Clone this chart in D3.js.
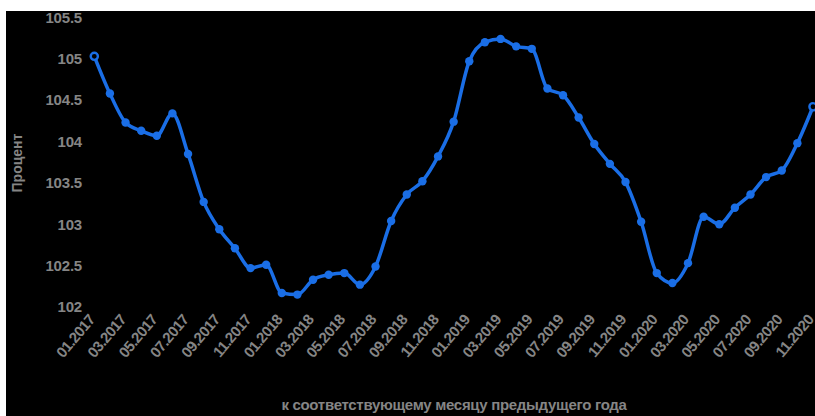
<!DOCTYPE html>
<html><head><meta charset="utf-8">
<script src="https://cdn.jsdelivr.net/npm/d3@7"></script>
<style>html,body{margin:0;padding:0;background:#fff;overflow:hidden}</style>
</head><body>
<svg id="c" width="815" height="416"></svg>
<script>
const months = [
 "01.2017","02.2017","03.2017","04.2017","05.2017","06.2017","07.2017","08.2017","09.2017","10.2017","11.2017","12.2017",
 "01.2018","02.2018","03.2018","04.2018","05.2018","06.2018","07.2018","08.2018","09.2018","10.2018","11.2018","12.2018",
 "01.2019","02.2019","03.2019","04.2019","05.2019","06.2019","07.2019","08.2019","09.2019","10.2019","11.2019","12.2019",
 "01.2020","02.2020","03.2020","04.2020","05.2020","06.2020","07.2020","08.2020","09.2020","10.2020","11.2020"];
const values = [
 105.03,104.58,104.23,104.13,104.07,104.34,103.85,103.27,102.94,102.71,102.47,102.51,
 102.17,102.15,102.33,102.39,102.41,102.27,102.49,103.04,103.36,103.52,103.82,104.24,
 104.97,105.20,105.24,105.15,105.12,104.64,104.56,104.29,103.97,103.73,103.51,103.03,
 102.41,102.29,102.53,103.09,103.00,103.20,103.36,103.57,103.65,103.98,104.42];
const xTickLabels = months.filter((d,i)=>i%2===0);
const yTicks = [102,102.5,103,103.5,104,104.5,105,105.5];
const yTitle = "Процент";
const xTitle = "к соответствующему месяцу предыдущего года";

const svg = d3.select("#c");
svg.append("rect").attr("x",6).attr("y",11).attr("width",809).attr("height",405).attr("fill","#000");

const x = d3.scalePoint().domain(months).range([94.3, 813]);
const y = d3.scaleLinear().domain([102,105.5]).range([307, 17.4]);
const grey = "#858585";
const blue = "#1a6ee6";
const font = "Liberation Sans, Arial, sans-serif";

const yAxis = svg.append("g").attr("transform","translate(84,0)")
  .call(d3.axisLeft(y).tickValues(yTicks).tickSize(0).tickPadding(2).tickFormat(d=>String(d)));
yAxis.select(".domain").remove();
yAxis.selectAll("text").attr("fill",grey).attr("font-family",font)
  .attr("font-size","15px").attr("font-weight","bold").attr("letter-spacing","-0.2px");

const xAxis = svg.append("g").attr("transform","translate(0,320)")
  .call(d3.axisBottom(x).tickValues(xTickLabels).tickSize(0).tickPadding(0));
xAxis.select(".domain").remove();
xAxis.selectAll("text").attr("fill",grey).attr("font-family",font)
  .attr("font-size","15px").attr("font-weight","bold").attr("letter-spacing","-0.5px")
  .attr("text-anchor","end").attr("x",0).attr("y",0).attr("dy","0").attr("dx","0")
  .attr("transform","translate(1,0) rotate(-50)");

svg.append("text").attr("transform","translate(22,163) rotate(-90)")
  .attr("text-anchor","middle").attr("fill",grey)
  .attr("font-family",font).attr("font-size","14px").attr("font-weight","bold")
  .text(yTitle);
svg.append("text").attr("x",454).attr("y",410)
  .attr("text-anchor","middle").attr("fill",grey)
  .attr("font-family",font).attr("font-size","15px").attr("font-weight","bold")
  .attr("letter-spacing","-0.3px")
  .text(xTitle);

const line = d3.line().x((d,i)=>x(months[i])).y(d=>y(d)).curve(d3.curveMonotoneX);
svg.append("path").datum(values).attr("d",line).attr("fill","none").attr("stroke",blue).attr("stroke-width",3.5);

svg.append("g").selectAll("circle").data(values).join("circle")
  .attr("cx",(d,i)=>x(months[i])).attr("cy",d=>y(d)).attr("r",(d,i)=>(i===0||i===values.length-1)?3.6:4.2)
  .attr("fill",(d,i)=>(i===0||i===values.length-1)?"#000":blue)
  .attr("stroke",blue).attr("stroke-width",(d,i)=>(i===0||i===values.length-1)?2.4:0);
</script>
</body></html>
